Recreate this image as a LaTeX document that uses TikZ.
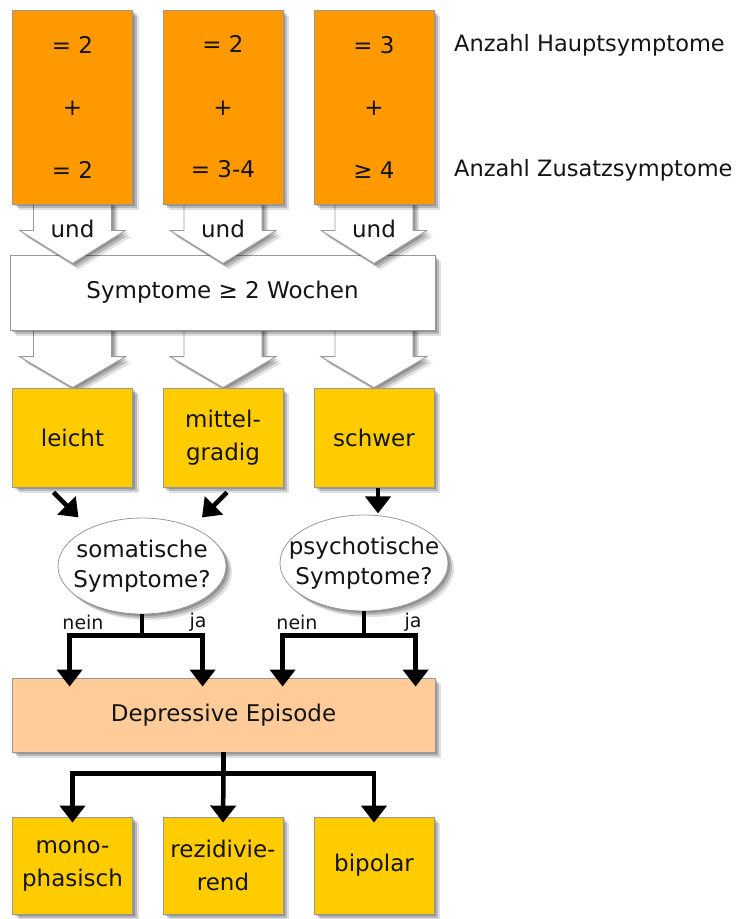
\documentclass[tikz,border=0pt]{standalone}
\usepackage{fontspec}
\setmainfont{DejaVu Sans}
\usepackage{tikz}
\usetikzlibrary{arrows.meta,positioning,calc,shapes.geometric,shadows}

\definecolor{hauptorange}{RGB}{255,153,0}
\definecolor{stufegelb}{RGB}{255,204,0}
\definecolor{episodepfirsich}{RGB}{255,204,153}

\pgfdeclarelayer{hinten}
\pgfdeclarelayer{vorne}
\pgfsetlayers{hinten,main,vorne}

\begin{document}
\begin{tikzpicture}[x=1pt, y=-1pt,
    every node/.style={text=black!92, font=\fontsize{23}{27}\selectfont},
    schatten/.style={
      drop shadow={shadow xshift=2pt, shadow yshift=-2pt, fill=black, opacity=0.2},
      drop shadow={shadow xshift=4pt, shadow yshift=-4pt, fill=black, opacity=0.18},
      drop shadow={shadow xshift=6pt, shadow yshift=-6pt, fill=black, opacity=0.12}},
    kasten/.style={rectangle, draw=black!40, line width=0.8pt, schatten, minimum width=120pt, align=center, inner sep=2pt},
    kriterium/.style={kasten, fill=hauptorange, minimum height=194pt, font=\fontsize{23}{62.5}\selectfont},
    stufe/.style={kasten, fill=stufegelb, minimum height=99pt, font=\fontsize{23}{33}\selectfont},
    verlauf/.style={kasten, fill=stufegelb, minimum height=97pt, font=\fontsize{23}{33}\selectfont},
    frage/.style={ellipse, draw=black!40, fill=white, line width=0.8pt, schatten, minimum width=168pt, minimum height=96pt, inner xsep=-16pt, inner ysep=0pt, align=center, font=\fontsize{23}{30}\selectfont},
    blockpfeil/.style={fill=white, draw=black!40, line width=0.8pt, schatten},
    linie/.style={draw=black, line width=4.5pt},
    pfeil/.style={linie, -{Triangle[width=25pt,length=17pt]}},
    zweig/.style={font=\fontsize{19}{22}\selectfont, inner sep=1pt},
    anzahl/.style={anchor=west, font=\fontsize{22.5}{26}\selectfont, inner sep=0pt}
  ]
    \useasboundingbox (0,0) rectangle (738,919);

    % Kriterien
    \begin{pgfonlayer}{vorne}
      \node[kriterium] (o1) at (72.5,107) {= 2\\+\\= 2};
      \node[kriterium] (o2) at (223,107) {= 2\\+\\= 3-4};
      \node[kriterium] (o3) at (374,107) {= 3\\+\\≥ 4};
    \end{pgfonlayer}
    \node[anzahl] (lh) at (454,45) {Anzahl Hauptsymptome};
    \node[anzahl] (lz) at (454,170) {Anzahl Zusatzsymptome};

    % Dauer
    \node[kasten, fill=white, minimum width=425pt, minimum height=75pt] (w) at (222.5,292.5) {Symptome ≥ 2 Wochen};

    % Schweregrad
    \node[stufe] (m1) at (72.5,437.5) {leicht};
    \node[stufe] (m2) at (223,437.5) {mittel-\\gradig};
    \node[stufe] (m3) at (374,437.5) {schwer};

    \foreach \k/\u in {o1/u1,o2/u2,o3/u3}{
      \filldraw[blockpfeil] ($(\k.south)+(-39,-4)$) -- ++(0,30) -- ++(-14,0)
        -- ($(\k.south)+(0,59)$) -- ++(53,-33) -- ++(-14,0) -- ++(0,-30);
      \node (\u) at ($(\k.south)+(0,25)$) {und};
    }
    \begin{pgfonlayer}{hinten}
      \foreach \k in {m1,m2,m3}{
        \filldraw[blockpfeil] ($(\k.north)+(-39,-62)$) -- ++(0,31) -- ++(-14,0)
          -- (\k.north) -- ++(53,-31) -- ++(-14,0) -- ++(0,-31);
      }
    \end{pgfonlayer}

    % Zusatzfragen
    \node[frage] (s1) at (142,566) {somatische\\Symptome?};
    \node[frage] (s2) at (364,563) {psychotische\\Symptome?};
    \draw[pfeil] ($(m1.south)+(-19,5)$) -- ($(m1.south)+(6,30)$);
    \draw[pfeil] ($(m2.south)+(4,5)$) -- ($(m2.south)+(-21,30)$);
    \draw[pfeil] ($(m3.south)+(4,1)$) -- ($(m3.south)+(4,26)$);

    % Episode
    \node[kasten, fill=episodepfirsich, minimum width=423pt, minimum height=74pt] (d) at (223.5,715) {Depressive Episode};

    \draw[linie] (s1.south) -- ++(0,21) coordinate (g1);
    \draw[linie] (s2.south) -- (s2.south |- g1) coordinate (g2);
    \draw[pfeil] (g1) -| ($(d.north west)+(58,9)$);
    \draw[pfeil] (g1) -| ($(d.north west)+(191,9)$);
    \draw[pfeil] (g2) -| ($(d.north west)+(271,9)$);
    \draw[pfeil] (g2) -| ($(d.north west)+(404,9)$);
    \node[zweig] (n1) at (83,622) {nein};
    \node[zweig] (j1) at (198,622) {ja};
    \node[zweig] (n2) at (297,622) {nein};
    \node[zweig] (j2) at (413,622) {ja};

    % Verlauf
    \node[verlauf] (r1) at (72.5,865.5) {mono-\\phasisch};
    \node[verlauf] (r2) at (223,865.5) {rezidivie-\\rend};
    \node[verlauf] (r3) at (374,865.5) {bipolar};

    \draw[linie] (d.south) -- ++(0,21) coordinate (g3);
    \draw[pfeil] (g3) -| ($(r1.north)+(0,6)$);
    \draw[pfeil] (g3) -- ($(r2.north)+(0,6)$);
    \draw[pfeil] (g3) -| ($(r3.north)+(0,6)$);
  \end{tikzpicture}
\end{document}
